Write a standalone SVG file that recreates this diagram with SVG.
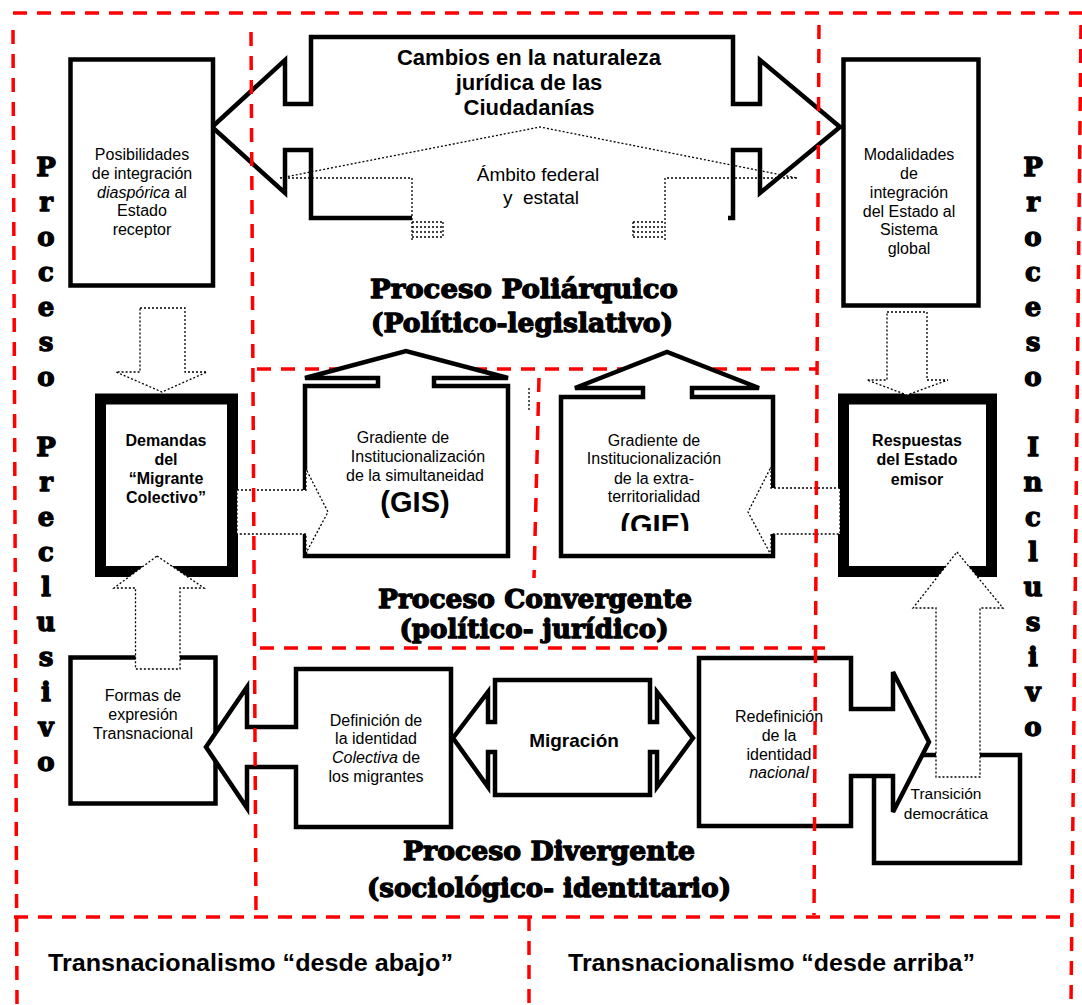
<svg xmlns="http://www.w3.org/2000/svg" width="1082" height="1005" viewBox="0 0 1082 1005">
<defs>
<style>
.t{font-family:"Liberation Sans",Arial,sans-serif;font-size:16px;text-anchor:middle;fill:#000}
.b{font-weight:bold}
.i{font-style:italic}
.h{font-family:"DejaVu Serif","Liberation Serif",serif;font-weight:bold;font-size:26px;text-anchor:middle;fill:#000;stroke:#000;stroke-width:1.3;stroke-linejoin:round}
.s{fill:#fff;stroke:#000;stroke-width:4.5;stroke-linejoin:miter}
.k{fill:#fff;stroke:#000;stroke-width:11}
.d{fill:#fff;stroke:#000;stroke-width:1.3;stroke-dasharray:2 2}
.dl{fill:none;stroke:#000;stroke-width:1.3;stroke-dasharray:2 2}
.r{fill:none;stroke:#ff0000;stroke-width:3.5;stroke-dasharray:14 10}
</style>
<clipPath id="gieclip"><rect x="560" y="400" width="212" height="131"/></clipPath>
</defs>
<rect width="1082" height="1005" fill="#fff"/>

<g id="regions-back">
<line class="r" x1="257" y1="369" x2="818" y2="369"/>
</g>

<g id="cambios">
<path class="s" d="M 728,218 L 733,218 L 733,150 L 760,150 L 760,193 L 840,127 L 760,60 L 760,104 L 733,104 L 733,37 L 311,37 L 311,104 L 285,104 L 285,60 L 212,127 L 285,193 L 285,150 L 311,150 L 311,218 L 412,218"/>
<text class="t b" style="font-size:22px" x="529" y="65">Cambios en la naturaleza</text>
<text class="t b" style="font-size:22px" x="529" y="90">jurídica de las</text>
<text class="t b" style="font-size:22px" x="529" y="115">Ciudadanías</text>
</g>

<g id="ambito">
<path class="dl" d="M 280,178 L 540,127 L 797,178 M 280,178 L 412,178 L 412,240 M 665,240 L 665,178 L 797,178"/>
<path class="dl" d="M 412,222 L 443,222 M 412,227 L 443,227 M 412,232 L 443,232 M 412,237 L 443,237 M 443,222 L 443,237 M 633,222 L 665,222 M 633,227 L 665,227 M 633,232 L 665,232 M 633,237 L 665,237 M 633,222 L 633,237"/>
<text class="t" style="font-size:19px" x="538" y="181">Ámbito federal</text>
<text class="t" style="font-size:19px" x="541" y="204" xml:space="preserve">y  estatal</text>
</g>

<g id="posibilidades">
<rect class="s" x="70.5" y="59.5" width="142.5" height="226"/>
<text class="t" x="142" y="160">Posibilidades</text>
<text class="t" x="142" y="179">de integración</text>
<text class="t" x="142" y="198"><tspan class="i">diaspórica</tspan> al</text>
<text class="t" x="142" y="216">Estado</text>
<text class="t" x="142" y="235">receptor</text>
</g>

<g id="modalidades">
<rect class="s" x="843.5" y="59.5" width="135" height="246"/>
<text class="t" x="909" y="160">Modalidades</text>
<text class="t" x="909" y="179">de</text>
<text class="t" x="909" y="198">integración</text>
<text class="t" x="909" y="217">del Estado al</text>
<text class="t" x="909" y="235">Sistema</text>
<text class="t" x="909" y="254">global</text>
</g>

<g id="demandas">
<rect class="k" x="100.5" y="399" width="132" height="172.5"/>
<text class="t b" x="166" y="446">Demandas</text>
<text class="t b" x="166" y="465">del</text>
<text class="t b" x="166" y="484">“Migrante</text>
<text class="t b" x="166" y="503">Colectivo”</text>
</g>

<g id="gis">
<path class="s" d="M 305,556 L 305,386 L 378,386 L 378,378 L 305,378 L 406,351 L 508,378 L 434,378 L 434,386 L 508,386 L 508,556 Z"/>
<text class="t" x="403" y="443">Gradiente de</text>
<text class="t" x="418" y="462">Institucionalización</text>
<text class="t" x="415" y="481">de la simultaneidad</text>
<text class="t b" style="font-size:29px" x="415" y="512">(GIS)</text>
</g>

<g id="gie">
<path class="s" d="M 561,556 L 561,397 L 643,397 L 643,388 L 575,388 L 667,352 L 759,388 L 692,388 L 692,397 L 773,397 L 773,556 Z"/>
<text class="t" x="654" y="446">Gradiente de</text>
<text class="t" x="654" y="464">Institucionalización</text>
<text class="t" x="654" y="484">de la extra-</text>
<text class="t" x="654" y="502">territorialidad</text>
<text class="t b" style="font-size:29px" x="655" y="535" clip-path="url(#gieclip)">(GIE)</text>
</g>

<g id="respuestas">
<rect class="k" x="843.5" y="399" width="148" height="172.5"/>
<text class="t b" x="917" y="446">Respuestas</text>
<text class="t b" x="917" y="465">del Estado</text>
<text class="t b" x="917" y="485">emisor</text>
</g>

<g id="formas">
<rect class="s" x="70.5" y="657.5" width="145" height="146"/>
<text class="t" x="143" y="701">Formas de</text>
<text class="t" x="143" y="720">expresión</text>
<text class="t" x="143" y="739">Transnacional</text>
</g>

<g id="definicion">
<path class="s" d="M 296,669 L 451,669 L 451,827 L 296,827 L 296,767 L 247,767 L 247,808 L 206,747 L 247,687 L 247,727 L 296,727 Z"/>
<text class="t" x="376" y="726">Definición de</text>
<text class="t" x="376" y="744">la identidad</text>
<text class="t" x="376" y="763"><tspan class="i">Colectiva</tspan> de</text>
<text class="t" x="376" y="782">los migrantes</text>
</g>

<g id="migracion">
<path class="s" d="M 495,680 L 650,680 L 650,722 L 657,722 L 657,692 L 693,738 L 657,787 L 657,752 L 650,752 L 650,795 L 495,795 L 495,752 L 488,752 L 488,787 L 453,738 L 488,692 L 488,722 L 495,722 Z"/>
<text class="t b" style="font-size:19px" x="574" y="747">Migración</text>
</g>

<g id="transicion">
<rect class="s" x="874" y="755" width="146" height="108"/>
<text class="t" style="font-size:15.5px" x="946" y="799">Transición</text>
<text class="t" style="font-size:15.5px" x="946" y="819">democrática</text>
</g>

<g id="redefinicion">
<path class="s" d="M 699,658 L 851,658 L 851,709 L 893,709 L 893,672 L 929,742 L 893,812 L 893,776 L 851,776 L 851,826 L 699,826 Z"/>
<text class="t" x="779" y="722">Redefinición</text>
<text class="t" x="779" y="741">de la</text>
<text class="t" x="779" y="760">identidad</text>
<text class="t i" x="779" y="778">nacional</text>
</g>

<g id="connectors">
<path class="d" d="M 140,308 L 185,308 L 185,372 L 207,372 L 162,392 L 116,372 L 140,372 Z"/>
<path class="d" d="M 157,556 L 204,588 L 180,588 L 180,669 L 135.5,669 L 135.5,588 L 114,588 Z"/>
<path class="d" d="M 237,490 L 306,490 L 306,469 L 328,512 L 306,553 L 306,534 L 237,534 Z"/>
<path class="d" d="M 887,312 L 927,312 L 927,380 L 948,380 L 907,395 L 867,380 L 887,380 Z"/>
<path class="d" d="M 840,488 L 771,488 L 771,467 L 748,512 L 771,555 L 771,534 L 840,534 Z"/>
<path class="d" d="M 957,552 L 1003,608 L 980,608 L 980,777 L 936,777 L 936,608 L 913,608 Z"/>
<line class="dl" x1="529" y1="388" x2="529" y2="412"/>
</g>

<g id="regions">
<line class="r" x1="13" y1="13" x2="1082" y2="13"/>
<line class="r" x1="13" y1="30" x2="17" y2="1005"/>
<line class="r" x1="251" y1="32" x2="256" y2="915"/>
<line class="r" x1="819" y1="25" x2="814" y2="915"/>
<line class="r" x1="1081" y1="25" x2="1071" y2="1005"/>
<line class="r" x1="539" y1="378" x2="534" y2="578"/>
<line class="r" x1="260" y1="648" x2="825" y2="648"/>
<line class="r" x1="14" y1="917" x2="1073" y2="917"/>
<line class="r" x1="529" y1="917" x2="529" y2="1005"/>
</g>

<g id="headings">
<text class="h" x="524" y="298" textLength="308" lengthAdjust="spacingAndGlyphs">Proceso Poliárquico</text>
<text class="h" x="522" y="332" textLength="302" lengthAdjust="spacingAndGlyphs">(Político-legislativo)</text>
<text class="h" x="535" y="608" textLength="314" lengthAdjust="spacingAndGlyphs">Proceso Convergente</text>
<text class="h" x="534" y="638" textLength="269" lengthAdjust="spacingAndGlyphs">(político- jurídico)</text>
<text class="h" x="549" y="860" textLength="292" lengthAdjust="spacingAndGlyphs">Proceso Divergente</text>
<text class="h" x="549" y="897" textLength="364" lengthAdjust="spacingAndGlyphs">(sociológico- identitario)</text>
</g>

<g id="preclusivo">
<text class="h" x="46" y="176">P</text>
<text class="h" x="46" y="211">r</text>
<text class="h" x="46" y="246">o</text>
<text class="h" x="46" y="281">c</text>
<text class="h" x="46" y="316">e</text>
<text class="h" x="46" y="351">s</text>
<text class="h" x="46" y="386">o</text>
<text class="h" x="46" y="456">P</text>
<text class="h" x="46" y="491">r</text>
<text class="h" x="46" y="526">e</text>
<text class="h" x="46" y="561">c</text>
<text class="h" x="46" y="596">l</text>
<text class="h" x="46" y="631">u</text>
<text class="h" x="46" y="666">s</text>
<text class="h" x="46" y="701">i</text>
<text class="h" x="46" y="736">v</text>
<text class="h" x="46" y="771">o</text>
</g>

<g id="inclusivo">
<text class="h" x="1033" y="176">P</text>
<text class="h" x="1033" y="211">r</text>
<text class="h" x="1033" y="246">o</text>
<text class="h" x="1033" y="281">c</text>
<text class="h" x="1033" y="316">e</text>
<text class="h" x="1033" y="351">s</text>
<text class="h" x="1033" y="386">o</text>
<text class="h" x="1033" y="456">I</text>
<text class="h" x="1033" y="491">n</text>
<text class="h" x="1033" y="526">c</text>
<text class="h" x="1033" y="561">l</text>
<text class="h" x="1033" y="596">u</text>
<text class="h" x="1033" y="631">s</text>
<text class="h" x="1033" y="666">i</text>
<text class="h" x="1033" y="701">v</text>
<text class="h" x="1033" y="736">o</text>
</g>

<g id="transnacionalismo">
<text class="t b" style="font-size:23px;text-anchor:start" x="48" y="971" textLength="405" lengthAdjust="spacingAndGlyphs">Transnacionalismo “desde abajo”</text>
<text class="t b" style="font-size:23px;text-anchor:start" x="568" y="971" textLength="407" lengthAdjust="spacingAndGlyphs">Transnacionalismo “desde arriba”</text>
</g>
</svg>
